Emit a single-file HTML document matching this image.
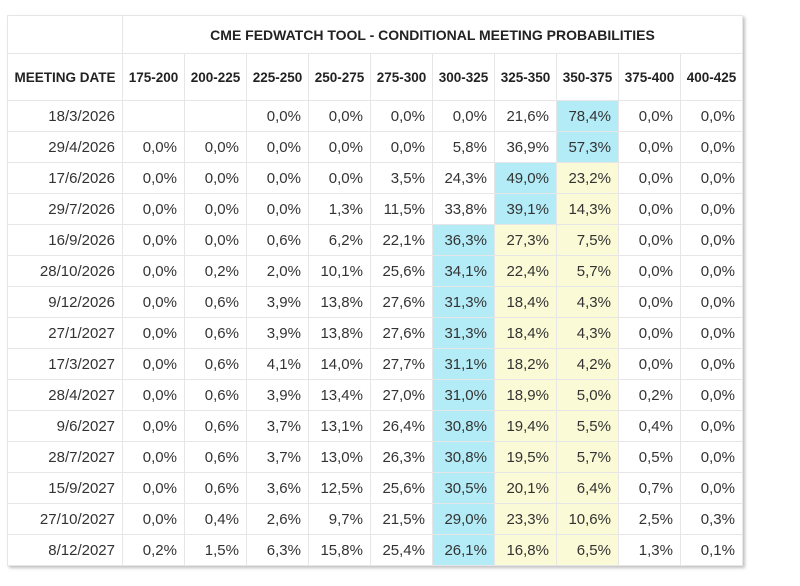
<!DOCTYPE html>
<html><head><meta charset="utf-8">
<style>
body{margin:0;width:800px;height:586px;background:#fff;overflow:hidden;font-family:"Liberation Sans",Arial,sans-serif;}
table{position:absolute;left:7px;top:15px;border-collapse:collapse;table-layout:fixed;box-shadow:2px 2px 3px rgba(0,0,0,0.25);background:#fff;}
td,th{border:1px solid #e6e6e6;padding:0 7px 0 0;color:#333;}
th{font-size:13.5px;font-weight:bold;text-align:center;padding:0;color:#222;white-space:nowrap;}
th.t{font-size:14px;}
td{font-size:15px;text-align:right;height:30px;white-space:nowrap;}
.b{background:#b3ecf7;}
.y{background:#fafad6;}
</style></head><body>
<table>
<colgroup><col style="width:115px"><col span="10" style="width:62px"></colgroup>
<thead>
<tr style="height:38px"><th></th><th class="t" colspan="10">CME FEDWATCH TOOL - CONDITIONAL MEETING PROBABILITIES</th></tr>
<tr style="height:47px" id="hdr"><th>MEETING DATE</th></tr>
</thead>
<tbody id="body"></tbody>
</table>
<script>
const bins=["175-200","200-225","225-250","250-275","275-300","300-325","325-350","350-375","375-400","400-425"];
const dates=["18/3/2026","29/4/2026","17/6/2026","29/7/2026","16/9/2026","28/10/2026","9/12/2026","27/1/2027","17/3/2027","28/4/2027","9/6/2027","28/7/2027","15/9/2027","27/10/2027","8/12/2027"];
const probs=[
[null,null,0,0,0,0,21.6,78.4,0,0],
[0,0,0,0,0,5.8,36.9,57.3,0,0],
[0,0,0,0,3.5,24.3,49.0,23.2,0,0],
[0,0,0,1.3,11.5,33.8,39.1,14.3,0,0],
[0,0,0.6,6.2,22.1,36.3,27.3,7.5,0,0],
[0,0.2,2.0,10.1,25.6,34.1,22.4,5.7,0,0],
[0,0.6,3.9,13.8,27.6,31.3,18.4,4.3,0,0],
[0,0.6,3.9,13.8,27.6,31.3,18.4,4.3,0,0],
[0,0.6,4.1,14.0,27.7,31.1,18.2,4.2,0,0],
[0,0.6,3.9,13.4,27.0,31.0,18.9,5.0,0.2,0],
[0,0.6,3.7,13.1,26.4,30.8,19.4,5.5,0.4,0],
[0,0.6,3.7,13.0,26.3,30.8,19.5,5.7,0.5,0],
[0,0.6,3.6,12.5,25.6,30.5,20.1,6.4,0.7,0],
[0,0.4,2.6,9.7,21.5,29.0,23.3,10.6,2.5,0.3],
[0.2,1.5,6.3,15.8,25.4,26.1,16.8,6.5,1.3,0.1]];
const hdr=document.getElementById('hdr');
bins.forEach(b=>{const th=document.createElement('th');th.textContent=b;


hdr.appendChild(th);});
const body=document.getElementById('body');
dates.forEach((d,i)=>{const tr=document.createElement('tr');


const td=document.createElement('td');td.textContent=d;


tr.appendChild(td);
const row=probs[i];let mx=0;row.forEach((v,j)=>{if(v!==null&&v>row[mx])mx=j;});
row.forEach((v,j)=>{const c=document.createElement('td');


if(v!==null)c.textContent=v.toFixed(1).replace('.',',')+'%';
if(j===mx)c.className='b';else if(j>mx&&j<=7)c.className='y';
tr.appendChild(c);});
body.appendChild(tr);});
</script>
</body></html>
